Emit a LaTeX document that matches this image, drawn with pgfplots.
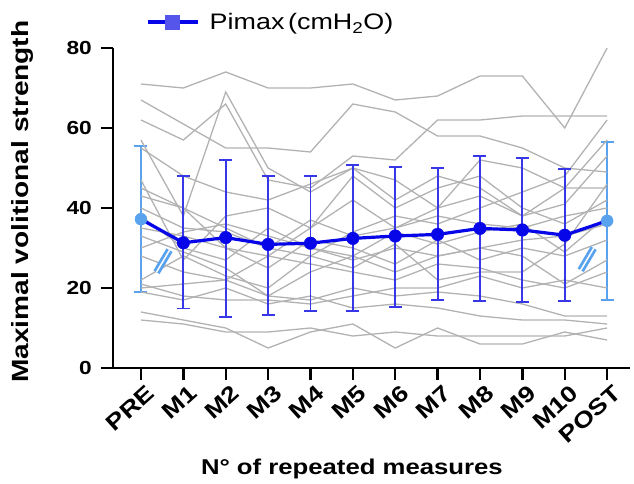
\documentclass[border=0pt]{standalone}
\usepackage{fontspec}
\setmainfont{Liberation Sans}[FakeStretch=1.2]
\usepackage{pgfplots}
\usepackage{pgfplotstable}
\pgfplotsset{compat=1.18}
\definecolor{subjgray}{RGB}{178,178,178}
\definecolor{meanblue}{RGB}{6,6,232}
\definecolor{barblue}{RGB}{55,55,232}
\definecolor{endblue}{RGB}{88,162,238}

% one column per subject, one row per measure (0 = PRE ... 11 = POST)
\pgfplotstableread{
x  s1 s2 s3 s4 s5 s6 s7 s8 s9 s10 s11 s12 s13 s14 s15 s16 s17 s18 s19 s20
0  71 67 62 57 55 47 43 40 38 35 33 30 28 22 21 20 19 14 12 45
1  70 61 57 38 48 27 40 35 30 33 29 34 24 28 18 21 17 12 11 40
2  74 55 66 69 44 38 35 34 27 30 25 36 22 23 17 22 20 10  9 30
3  70 55 47 50 42 40 30 30 35 25 18 33 28 20 17 18 16  5  9 28
4  70 54 45 44 46 35 37 28 30 32 24 30 26 28 16 17 18  9 10 35
5  71 66 53 50 50 48 33 34 27 30 28 28 24 25 18 20 15 11  8 42
6  67 64 52 47 42 40 35 38 30 26 24 34 22 31 20 18 16  5  9 35
7  68 58 62 40 48 45 38 36 28 32 28 31 26 22 20 19 15 10  8 40
8  73 58 62 43 45 48 36 40 30 27 30 34 25 24 23 18 13  6  8 52
9  73 55 63 38 38 40 35 44 32 30 28 36 22 24 20 16 12  6  8 50
10 60 50 63 41 45 36 38 48 33 28 21 29 20 31 22 13 12  9  8 45
11 80 49 63 53 57 42 40 62 36 32 27 38 24 46 20 13 11  7 10 45
}\subjects

% group mean with upper / lower error
\pgfplotstableread{
x  y    ep   em
0  37.2 18.3 18.1
1  31.3 16.7 16.4
2  32.6 19.4 19.9
3  30.9 17.1 17.6
4  31.2 16.8 16.9
5  32.4 18.4 18.1
6  33.0 17.3 17.7
7  33.4 16.6 16.4
8  34.9 18.1 18.1
9  34.5 18.1 18.0
10 33.2 16.5 16.5
11 36.8 19.8 19.8
}\means

\pgfplotstableread{
x  y    ep   em
1  31.3 16.7 16.4
2  32.6 19.4 19.9
3  30.9 17.1 17.6
4  31.2 16.8 16.9
5  32.4 18.4 18.1
6  33.0 17.3 17.7
7  33.4 16.6 16.4
8  34.9 18.1 18.1
9  34.5 18.1 18.0
10 33.2 16.5 16.5
}\mids

\pgfplotstableread{
x  y    ep   em
0  37.2 18.3 18.1
11 36.8 19.8 19.8
}\ends

\pgfplotsset{
  subj/.style={subjgray, line width=1.3bp, mark=none, forget plot},
}

\begin{document}
\begin{tikzpicture}
\begin{axis}[
  at={(0,0)}, anchor=south west,
  scale only axis,
  width=517bp, height=320bp,
  xmin=-0.66, xmax=11.54,
  ymin=0, ymax=80,
  clip=false,
  axis x line*=bottom, axis y line*=left,
  axis line style={line width=2.6bp, black},
  tick align=outside,
  major tick length=12bp,
  tick style={line width=2.4bp, black},
  xtick={0,...,11},
  xticklabels={PRE,M1,M2,M3,M4,M5,M6,M7,M8,M9,M10,POST},
  ytick={0,20,40,60,80},
  /pgf/number format/assume math mode=true,
  yticklabel style={font=\bfseries\fontsize{19}{21}\selectfont, inner sep=2bp, xshift=-7bp},
  xticklabel style={font=\bfseries\fontsize{22.5}{25}\selectfont, rotate=42, anchor=north east,
    inner sep=1bp, xshift=2bp, yshift=-5bp},
  every axis y label/.style={at={(rel axis cs:0,0.52)}, xshift=-90bp, rotate=90, anchor=center,
    font=\bfseries\fontsize{23.5}{26}\selectfont},
  every axis x label/.style={at={(rel axis cs:0.462,0)}, yshift=-106bp, anchor=base,
    font=\bfseries\fontsize{21.5}{24}\selectfont},
  ylabel={Maximal volitional strength},
  xlabel={N° of repeated measures},
  legend style={at={(rel axis cs:0.062,1.081)}, anchor=west, draw=none, fill=none,
    inner sep=0pt, font=\fontsize{22.5}{25}\selectfont,
    /tikz/every odd column/.append style={column sep=8bp}},
  legend cell align=left,
]
% PRE / POST spread
\addplot[forget plot, only marks, mark=none,
  error bars/.cd, y dir=both, y explicit,
  error bar style={endblue, line width=1.8bp},
  error mark options={endblue, rotate=90, mark size=6.5bp, line width=1.8bp}]
  table[x=x, y=y, y error plus=ep, y error minus=em] {\ends};

% individual subjects
\addplot[subj] table[x=x, y=s1]  {\subjects};
\addplot[subj] table[x=x, y=s2]  {\subjects};
\addplot[subj] table[x=x, y=s3]  {\subjects};
\addplot[subj] table[x=x, y=s4]  {\subjects};
\addplot[subj] table[x=x, y=s5]  {\subjects};
\addplot[subj] table[x=x, y=s6]  {\subjects};
\addplot[subj] table[x=x, y=s7]  {\subjects};
\addplot[subj] table[x=x, y=s8]  {\subjects};
\addplot[subj] table[x=x, y=s9]  {\subjects};
\addplot[subj] table[x=x, y=s10] {\subjects};
\addplot[subj] table[x=x, y=s11] {\subjects};
\addplot[subj] table[x=x, y=s12] {\subjects};
\addplot[subj] table[x=x, y=s13] {\subjects};
\addplot[subj] table[x=x, y=s14] {\subjects};
\addplot[subj] table[x=x, y=s15] {\subjects};
\addplot[subj] table[x=x, y=s16] {\subjects};
\addplot[subj] table[x=x, y=s17] {\subjects};
\addplot[subj] table[x=x, y=s18] {\subjects};
\addplot[subj] table[x=x, y=s19] {\subjects};
\addplot[subj] table[x=x, y=s20] {\subjects};

% repeated measures spread
\addplot[forget plot, only marks, mark=none,
  error bars/.cd, y dir=both, y explicit,
  error bar style={barblue, line width=1.8bp},
  error mark options={barblue, rotate=90, mark size=6.5bp, line width=1.8bp}]
  table[x=x, y=y, y error plus=ep, y error minus=em] {\mids};

% mean line
\addplot[forget plot, meanblue, line width=3.2bp, mark=none] table[x=x, y=y] {\means};
\addplot[forget plot, only marks, mark=*, mark size=6.3bp, meanblue] table[x=x, y=y] {\mids};
\addplot[forget plot, only marks, mark=*, mark size=6bp, endblue] table[x=x, y=y] {\ends};

% axis break marks
\draw[endblue, line width=2.8bp, double=white, double distance=1.5bp]
  (axis cs:0.52,26.7) ++(-6.5bp,-11bp) -- ++(13bp,22bp);
\draw[endblue, line width=2.8bp, double=white, double distance=1.5bp]
  (axis cs:10.53,27.2) ++(-6.5bp,-11bp) -- ++(13bp,22bp);

\addlegendimage{legend image code/.code={
  \draw[meanblue, line width=4.5bp] (0bp,0bp) -- (50bp,0bp);
  \fill[barblue!85!white] (18bp,-7bp) rectangle (32bp,7bp);}}
\addlegendentry{Pimax\,(cmH\textsubscript{2}O)}
\end{axis}
\pgfresetboundingbox
\useasboundingbox (-113bp,-116bp) rectangle (521bp,368bp);
\end{tikzpicture}
\end{document}
